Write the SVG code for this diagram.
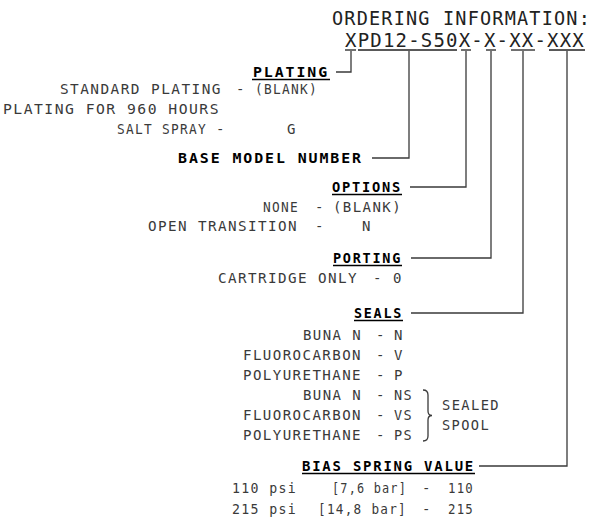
<svg xmlns="http://www.w3.org/2000/svg" width="597" height="523" viewBox="0 0 597 523">
<style>
text{font-family:"DejaVu Sans Mono","Liberation Mono",monospace;}
.t{font-size:14px;fill:#3a3a3a;letter-spacing:1.4px;}
.h{font-size:14px;font-weight:bold;fill:#000;letter-spacing:1.8px;}
.ti{font-size:19px;fill:#222;letter-spacing:1.2px;}
.c{stroke:#3a3a3a;stroke-width:1.3;fill:none;}
.u{stroke:#000;stroke-width:1.5;}
.uc{stroke:#222;stroke-width:1.3;}
</style>
<rect width="597" height="523" fill="#fff"/>
<g id="title">
<text class="ti" x="332" y="25" textLength="259" lengthAdjust="spacingAndGlyphs">ORDERING INFORMATION:</text>
</g>
<g id="code">
<text class="ti" x="345" y="47" textLength="240" lengthAdjust="spacingAndGlyphs">XPD12-S50X-X-XX-XXX</text>
<line class="uc" x1="345" y1="50" x2="356" y2="50"/>
<line class="uc" x1="358" y1="50" x2="457" y2="50"/>
<line class="uc" x1="461" y1="50" x2="471" y2="50"/>
<line class="uc" x1="486" y1="50" x2="496" y2="50"/>
<line class="uc" x1="511" y1="50" x2="535" y2="50"/>
<line class="uc" x1="549" y1="50" x2="585" y2="50"/>
</g>
<g id="plating">
<text class="h" x="253" y="77" textLength="76" lengthAdjust="spacingAndGlyphs">PLATING</text>
<line class="u" x1="252" y1="79.5" x2="330" y2="79.5"/>
<text class="t" x="60" y="94" textLength="162" lengthAdjust="spacingAndGlyphs">STANDARD PLATING</text>
<text class="t" x="236" y="94">-</text>
<text class="t" x="255" y="94" textLength="63" lengthAdjust="spacingAndGlyphs">(BLANK)</text>
<text class="t" x="3" y="114" textLength="217" lengthAdjust="spacingAndGlyphs">PLATING FOR 960 HOURS</text>
<text class="t" x="117" y="134" textLength="90" lengthAdjust="spacingAndGlyphs">SALT SPRAY</text>
<text class="t" x="216" y="134">-</text>
<text class="t" x="287" y="134">G</text>
</g>
<g id="base-model">
<text class="h" x="178" y="163" textLength="185" lengthAdjust="spacingAndGlyphs">BASE MODEL NUMBER</text>
</g>
<g id="options">
<text class="h" x="332" y="192" textLength="70" lengthAdjust="spacingAndGlyphs">OPTIONS</text>
<line class="u" x1="332" y1="194.5" x2="402" y2="194.5"/>
<text class="t" x="263" y="212" textLength="36" lengthAdjust="spacingAndGlyphs">NONE</text>
<text class="t" x="315" y="212">-</text>
<text class="t" x="333" y="212" textLength="69" lengthAdjust="spacingAndGlyphs">(BLANK)</text>
<text class="t" x="148" y="231" textLength="150" lengthAdjust="spacingAndGlyphs">OPEN TRANSITION</text>
<text class="t" x="315" y="231">-</text>
<text class="t" x="362" y="231">N</text>
</g>
<g id="porting">
<text class="h" x="333" y="263" textLength="69" lengthAdjust="spacingAndGlyphs">PORTING</text>
<line class="u" x1="333" y1="265.5" x2="402" y2="265.5"/>
<text class="t" x="218" y="283" textLength="140" lengthAdjust="spacingAndGlyphs">CARTRIDGE ONLY</text>
<text class="t" x="373" y="283">-</text>
<text class="t" x="393" y="283">0</text>
</g>
<g id="seals">
<text class="h" x="354" y="318" textLength="49" lengthAdjust="spacingAndGlyphs">SEALS</text>
<line class="u" x1="354" y1="320.5" x2="403" y2="320.5"/>
<text class="t" x="303" y="340" textLength="59" lengthAdjust="spacingAndGlyphs">BUNA N</text>
<text class="t" x="376" y="340">-</text>
<text class="t" x="394" y="340">N</text>
<text class="t" x="243" y="360" textLength="119" lengthAdjust="spacingAndGlyphs">FLUOROCARBON</text>
<text class="t" x="376" y="360">-</text>
<text class="t" x="394" y="360">V</text>
<text class="t" x="243" y="380" textLength="119" lengthAdjust="spacingAndGlyphs">POLYURETHANE</text>
<text class="t" x="376" y="380">-</text>
<text class="t" x="394" y="380">P</text>
<text class="t" x="303" y="400" textLength="59" lengthAdjust="spacingAndGlyphs">BUNA N</text>
<text class="t" x="376" y="400">-</text>
<text class="t" x="394" y="400" textLength="19" lengthAdjust="spacingAndGlyphs">NS</text>
<text class="t" x="243" y="420" textLength="119" lengthAdjust="spacingAndGlyphs">FLUOROCARBON</text>
<text class="t" x="376" y="420">-</text>
<text class="t" x="394" y="420" textLength="19" lengthAdjust="spacingAndGlyphs">VS</text>
<text class="t" x="243" y="440" textLength="119" lengthAdjust="spacingAndGlyphs">POLYURETHANE</text>
<text class="t" x="376" y="440">-</text>
<text class="t" x="394" y="440" textLength="19" lengthAdjust="spacingAndGlyphs">PS</text>
<path class="c" d="M423 390 Q428 390 428 395 L428 411 Q428 415.5 432 415.5 Q428 415.5 428 420 L428 436 Q428 441 423 441"/>
<text class="t" x="442" y="410" textLength="58" lengthAdjust="spacingAndGlyphs">SEALED</text>
<text class="t" x="442" y="430" textLength="48" lengthAdjust="spacingAndGlyphs">SPOOL</text>
</g>
<g id="bias-spring">
<text class="h" x="302" y="471" textLength="173" lengthAdjust="spacingAndGlyphs">BIAS SPRING VALUE</text>
<line class="u" x1="302" y1="473.5" x2="475" y2="473.5"/>
<text class="t" x="232" y="493" textLength="65" lengthAdjust="spacingAndGlyphs">110 psi</text>
<text class="t" x="332" y="493" textLength="75" lengthAdjust="spacingAndGlyphs">[7,6 bar]</text>
<text class="t" x="422" y="493">-</text>
<text class="t" x="448" y="493" textLength="26" lengthAdjust="spacingAndGlyphs">110</text>
<text class="t" x="232" y="514" textLength="65" lengthAdjust="spacingAndGlyphs">215 psi</text>
<text class="t" x="318" y="514" textLength="89" lengthAdjust="spacingAndGlyphs">[14,8 bar]</text>
<text class="t" x="422" y="514">-</text>
<text class="t" x="448" y="514" textLength="26" lengthAdjust="spacingAndGlyphs">215</text>
</g>
<g id="connectors">
<polyline class="c" points="336,72 351,72 351,51"/>
<polyline class="c" points="372,158 409,158 409,51"/>
<polyline class="c" points="410,187 466,187 466,51"/>
<polyline class="c" points="411,258 491,258 491,51"/>
<polyline class="c" points="411,313 523,313 523,51"/>
<polyline class="c" points="479,466 567,466 567,51"/>
</g>
</svg>
